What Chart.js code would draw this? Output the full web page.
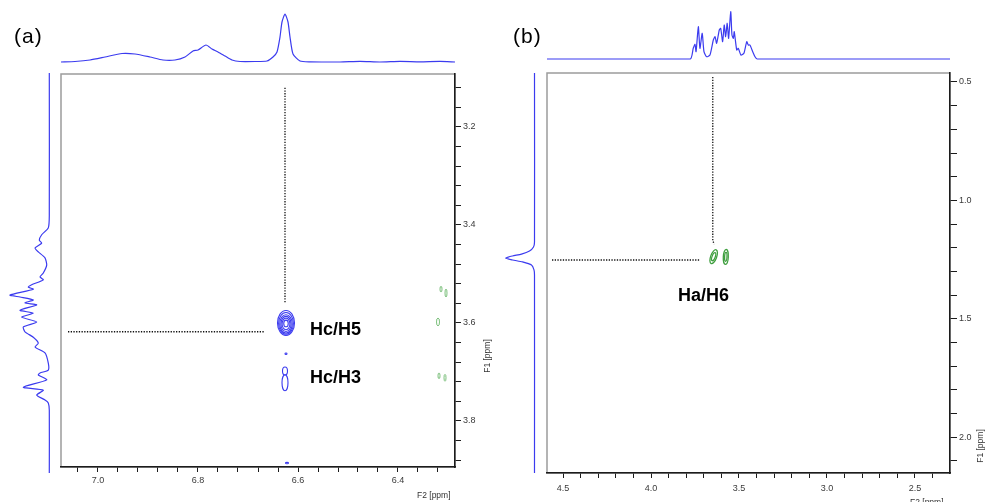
<!DOCTYPE html>
<html>
<head>
<meta charset="utf-8">
<title>2D NMR (a) / (b)</title>
<script src="https://cdn.jsdelivr.net/npm/chart.js@4.4.0/dist/chart.umd.min.js"></script>
<style>
  html, body { margin: 0; padding: 0; background: #fff; }
  #wrap { position: relative; width: 985px; height: 502px; overflow: hidden;
          font-family: 'Liberation Sans', Arial, sans-serif; }
  #wrap canvas { position: absolute; left: 0; top: 0; }
  .lbl { position: absolute; white-space: nowrap; color: #000; }
  .panel { font-size: 21px; line-height: 21px; letter-spacing: 1px; }
  .peak { font-size: 18px; line-height: 18px; font-weight: bold; }
  .ax { font-size: 8.5px; line-height: 10px; color: #333; }
  .rot { width: 50px; text-align: center; transform: rotate(-90deg); }
</style>
</head>
<body>
<div id="wrap">
  <canvas id="topA" width="985" height="502"></canvas>
  <canvas id="leftA" width="985" height="502"></canvas>
  <canvas id="mainA" width="985" height="502"></canvas>
  <canvas id="topB" width="985" height="502"></canvas>
  <canvas id="leftB" width="985" height="502"></canvas>
  <canvas id="mainB" width="985" height="502"></canvas>

  <div class="lbl panel" style="left:14px; top:25px;">(a)</div>
  <div class="lbl panel" style="left:513px; top:25px;">(b)</div>
  <div class="lbl peak" style="left:310px; top:320px;">Hc/H5</div>
  <div class="lbl peak" style="left:310px; top:368px;">Hc/H3</div>
  <div class="lbl peak" style="left:678px; top:286px;">Ha/H6</div>
  <div class="lbl ax" style="left:417px; top:490px;">F2 [ppm]</div>
  <div class="lbl ax" style="left:910px; top:497px;">F2 [ppm]</div>
  <div class="lbl ax rot" style="left:462px; top:351px;">F1 [ppm]</div>
  <div class="lbl ax rot" style="left:955px; top:441px;">F1 [ppm]</div>
</div>

<script>
// ---- panel (a) data ----
// F2 projection (top), ppm / intensity
const topA_ppm = [7.074, 7.046, 7.016, 6.986, 6.952, 6.926, 6.896, 6.870, 6.846, 6.826,
                  6.810, 6.800, 6.784, 6.772, 6.760, 6.746, 6.732, 6.716, 6.686, 6.662,
                  6.650, 6.642, 6.636, 6.632, 6.626, 6.620, 6.616, 6.610, 6.596, 6.576,
                  6.516, 6.476, 6.436, 6.396, 6.356, 6.316, 6.286];
const topA_int = [0, 0.5, 2, 5, 8.5, 8, 5, 2, 2, 5,
                  11, 12, 17, 13, 10, 6, 2, 0.5, 0.5, 1,
                  5, 10, 25, 40, 48, 40, 25, 8, 1, 0.2,
                  0, 0.6, 0, 0.6, 0.2, 0.6, 0];
// F1 projection (left), ppm / intensity
const leftA_ppm = [3.090, 3.380, 3.406, 3.420, 3.431, 3.437, 3.447, 3.455, 3.467, 3.482,
                   3.498, 3.506, 3.512, 3.522, 3.527, 3.531, 3.543, 3.547, 3.553, 3.559,
                   3.563, 3.574, 3.580, 3.588, 3.598, 3.608, 3.618, 3.629, 3.641, 3.649,
                   3.661, 3.682, 3.696, 3.702, 3.706, 3.716, 3.731, 3.737, 3.747, 3.757,
                   3.763, 3.778, 3.906];
const leftA_int = [0, 0, 1, 7.6, 10, 7.6, 14.3, 11, 4.3, 2.6,
                   6, 9.3, 6, 17.6, 21, 16, 39.3, 29.3, 16, 24.3,
                   12.6, 29.3, 16, 27.6, 12.6, 26, 24.3, 16, 11, 14.3,
                   4.3, 1, 1, 9.3, 11, 2.6, 26, 6, 12.6, 4.3,
                   1, 0, 0];
// cross peaks (contour rings): centre F2, centre F1, half width F2, half width F1
const cpA_f2 = [6.624, 6.624, 6.624, 6.624, 6.624, 6.624, 6.624, 6.626, 6.626, 6.622];
const cpA_f1 = [3.600, 3.601, 3.602, 3.602, 3.602, 3.601, 3.663, 3.698, 3.722, 3.886];
const cpA_w2 = [0.017, 0.0148, 0.0125, 0.0102, 0.0078, 0.0045, 0.002, 0.005, 0.006, 0.003];
const cpA_w1 = [0.0255, 0.0222, 0.0188, 0.0154, 0.0118, 0.0068, 0.0015, 0.0082, 0.0163, 0.0015];
// weak negative-phase traces near the right edge
const negA_f2 = [6.314, 6.304, 6.320, 6.318, 6.306];
const negA_f1 = [3.531, 3.539, 3.598, 3.708, 3.712];
const negA_w2 = [0.002, 0.002, 0.003, 0.002, 0.002];
const negA_w1 = [0.006, 0.008, 0.008, 0.006, 0.007];
// dotted guide lines
const guideA_v = [{ x: 6.626, y: 3.120 }, { x: 6.626, y: 3.561 }];
const guideA_h = [{ x: 7.060, y: 3.618 }, { x: 6.666, y: 3.618 }];
// axis ticks
const f2TicksA = [7.04, 7.00, 6.96, 6.92, 6.88, 6.84, 6.80, 6.76, 6.72, 6.68,
                  6.64, 6.60, 6.56, 6.52, 6.48, 6.44, 6.40, 6.36, 6.32];
const f2LabelsA = ['7.0', '6.8', '6.6', '6.4'];
const f1TicksA = [3.12, 3.16, 3.20, 3.24, 3.28, 3.32, 3.36, 3.40, 3.44, 3.48,
                  3.52, 3.56, 3.60, 3.64, 3.68, 3.72, 3.76, 3.80, 3.84, 3.88];
const f1LabelsA = ['3.2', '3.4', '3.6', '3.8'];

// ---- panel (b) data ----
const topB_ppm = [4.591, 3.778, 3.760, 3.750, 3.744, 3.731, 3.722, 3.709, 3.699, 3.684,
                  3.665, 3.646, 3.636, 3.627, 3.612, 3.604, 3.593, 3.584, 3.576, 3.567,
                  3.559, 3.547, 3.540, 3.532, 3.527, 3.513, 3.504, 3.489, 3.472, 3.456,
                  3.447, 3.438, 3.422, 3.409, 3.396, 2.301];
const topB_int = [0, 0, 10.7, 14.7, 7.3, 32.3, 10.7, 25.7, 7.3, 2.3,
                  4, 19, 22.3, 15.7, 29, 30.7, 17.3, 34, 22.3, 35.7,
                  20.7, 47.3, 24, 20.7, 27.3, 9, 10.7, 4, 5.7, 17.3,
                  14, 14, 7.3, 2.3, 0, 0];
const leftB_ppm = [0.462, 1.176, 1.197, 1.214, 1.227, 1.235, 1.244, 1.252, 1.260, 1.273,
                   1.294, 1.315, 2.152];
const leftB_int = [0, 0, 1, 5, 13, 22, 29, 22, 12, 3, 0.5, 0, 0];
const cpB_f2 = [3.644, 3.644, 3.575, 3.575];
const cpB_f1 = [1.238, 1.238, 1.239, 1.239];
const cpB_w2 = [0.017, 0.009, 0.0142, 0.0068];
const cpB_w1 = [0.031, 0.018, 0.0317, 0.019];
const cpB_tilt = [0.35, 0.35, 0.05, 0.05];
const guideB_v = [{ x: 3.649, y: 0.479 }, { x: 3.649, y: 1.172 }, { x: 3.640, y: 1.185 }];
const guideB_h = [{ x: 4.5625, y: 1.252 }, { x: 3.722, y: 1.252 }];
const f2TicksB = [4.5, 4.4, 4.3, 4.2, 4.1, 4.0, 3.9, 3.8, 3.7, 3.6, 3.5, 3.4, 3.3,
                  3.2, 3.1, 3.0, 2.9, 2.8, 2.7, 2.6, 2.5, 2.4];
const f2LabelsB = ['4.5', '4.0', '3.5', '3.0', '2.5'];
const f1TicksB = [0.5, 0.6, 0.7, 0.8, 0.9, 1.0, 1.1, 1.2, 1.3, 1.4, 1.5, 1.6, 1.7,
                  1.8, 1.9, 2.0, 2.1];
const f1LabelsB = ['0.5', '1.0', '1.5', '2.0'];

const BLUE = '#3b3bef';
const GREEN = '#3f9f3f';

function pairs(xs, ys) {
    return xs.map((x, i) => ({ x: x, y: ys[i] }));
}

// gray frame round the plot area, axes draw over bottom/right
const framePlugin = {
    id: 'frame',
    beforeDraw(chart) {
        const a = chart.chartArea;
        const ctx = chart.ctx;
        ctx.save();
        ctx.strokeStyle = '#9c9c9c';
        ctx.lineWidth = 1.5;
        ctx.strokeRect(a.left, a.top, a.right - a.left, a.bottom - a.top);
        ctx.restore();
    }
};

// contour rings drawn through the chart's own scales
function contourPlugin(sets) {
    return {
        id: 'contours',
        afterDatasetsDraw(chart) {
            const xs = chart.scales.x, ys = chart.scales.y, ctx = chart.ctx;
            ctx.save();
            sets.forEach(s => {
                ctx.strokeStyle = s.color;
                ctx.lineWidth = s.width;
                s.f2.forEach((c2, i) => {
                    const px = xs.getPixelForValue(c2);
                    const py = ys.getPixelForValue(s.f1[i]);
                    const rx = Math.abs(xs.getPixelForValue(c2 + s.w2[i]) - px);
                    const ry = Math.abs(ys.getPixelForValue(s.f1[i] + s.w1[i]) - py);
                    const tilt = s.tilt ? s.tilt[i] : 0;
                    ctx.beginPath();
                    ctx.ellipse(px, py, Math.max(rx, 0.6), Math.max(ry, 0.6), tilt, 0, Math.PI * 2);
                    ctx.stroke();
                });
            });
            ctx.restore();
        }
    };
}

function ppmAxis(position, range, tickValues, labels, fit, tickLen, pad) {
    return {
        type: 'linear',
        position: position,
        reverse: true,
        min: range[0],
        max: range[1],
        afterBuildTicks: s => { s.ticks = tickValues.map(v => ({ value: v })); },
        afterFit: fit,
        grid: { drawOnChartArea: false, drawTicks: true, tickLength: tickLen, color: '#1c1c1c', lineWidth: 1 },
        border: { display: true, color: '#1c1c1c', width: 1.5 },
        ticks: {
            autoSkip: false,
            maxRotation: 0,
            padding: pad,
            color: '#3a3a3a',
            font: { family: 'Liberation Sans', size: 9 },
            callback: v => {
                const s = v.toFixed(1);
                return labels.includes(s) && Math.abs(v - parseFloat(s)) < 1e-9 ? s : '';
            }
        }
    };
}

function guideSet(pts) {
    return {
        data: pts, showLine: true, borderColor: '#111', borderWidth: 1.3,
        borderDash: [1.3, 1.4], pointRadius: 0, fill: false
    };
}

function mainChart(id, cfg) {
    return new Chart(document.getElementById(id), {
        type: 'scatter',
        data: { datasets: cfg.guides.map(guideSet) },
        options: {
            responsive: false,
            animation: false,
            events: [],
            layout: { padding: cfg.pad },
            plugins: { legend: { display: false }, tooltip: { enabled: false } },
            scales: {
                x: ppmAxis('bottom', cfg.xRange, cfg.xTicks, cfg.xLabels, s => { s.height = 25; }, 5, cfg.xPad),
                y: ppmAxis('right', cfg.yRange, cfg.yTicks, cfg.yLabels, s => { s.width = 30; }, cfg.yTickLen, 2)
            }
        },
        plugins: [framePlugin, contourPlugin(cfg.contours)]
    });
}

function projChart(id, pts, xRange, yRange, pad) {
    return new Chart(document.getElementById(id), {
        type: 'scatter',
        data: {
            datasets: [{
                data: pts, showLine: true, borderColor: BLUE, borderWidth: 1.2,
                pointRadius: 0, tension: 0.2, clip: false, fill: false
            }]
        },
        options: {
            responsive: false,
            animation: false,
            events: [],
            layout: { padding: pad },
            plugins: { legend: { display: false }, tooltip: { enabled: false } },
            scales: {
                x: { type: 'linear', display: false, reverse: true, min: xRange[0], max: xRange[1] },
                y: { type: 'linear', display: false, reverse: yRange[2], min: yRange[0], max: yRange[1] }
            }
        }
    });
}

// ---- panel (a) ----
projChart('topA', pairs(topA_ppm, topA_int), [6.286, 7.074], [0, 48, false],
          { left: 61, right: 530, top: 14, bottom: 440 });
projChart('leftA', pairs(leftA_int, leftA_ppm), [-0.7, 44.3], [3.090, 3.906, true],
          { left: 5, right: 935, top: 73, bottom: 29 });
mainChart('mainA', {
    pad: { left: 61, right: 500, top: 74, bottom: 10 },
    xRange: [6.286, 7.074], yRange: [3.092, 3.894],
    xTicks: f2TicksA, xLabels: f2LabelsA, yTicks: f1TicksA, yLabels: f1LabelsA,
    xPad: 3, yTickLen: 6,
    guides: [guideA_v, guideA_h],
    contours: [
        { f2: cpA_f2, f1: cpA_f1, w2: cpA_w2, w1: cpA_w1, color: BLUE, width: 1.1 },
        { f2: negA_f2, f1: negA_f1, w2: negA_w2, w1: negA_w1, color: '#6cb86c', width: 0.9 }
    ]
});

// ---- panel (b) ----
projChart('topB', pairs(topB_ppm, topB_int), [2.301, 4.591], [0, 50, false],
          { left: 547, right: 35, top: 9, bottom: 443 });
projChart('leftB', pairs(leftB_int, leftB_ppm), [-1.5, 34.5], [0.462, 2.152, true],
          { left: 500, right: 449, top: 73, bottom: 29 });
mainChart('mainB', {
    pad: { left: 547, right: 5, top: 73, bottom: 4 },
    xRange: [2.301, 4.591], yRange: [0.462, 2.152],
    xTicks: f2TicksB, xLabels: f2LabelsB, yTicks: f1TicksB, yLabels: f1LabelsB,
    xPad: 5, yTickLen: 7,
    guides: [guideB_v, guideB_h],
    contours: [
        { f2: cpB_f2, f1: cpB_f1, w2: cpB_w2, w1: cpB_w1, tilt: cpB_tilt, color: GREEN, width: 1.3 }
    ]
});
</script>
</body>
</html>
